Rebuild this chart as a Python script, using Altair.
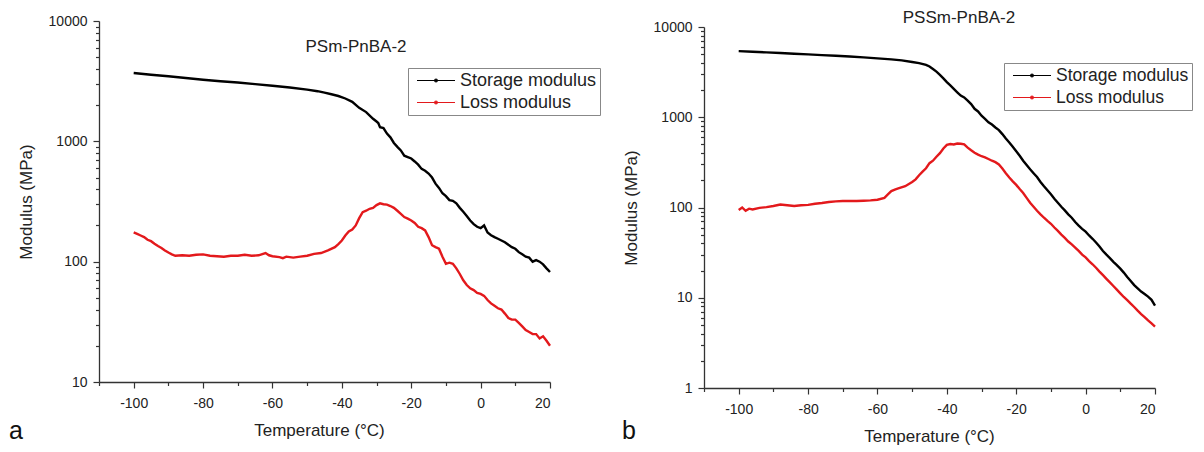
import altair as alt
import pandas as pd

FONT = "Liberation Sans"

# ---------------- panel a : PSm-PnBA-2 ----------------
a_storage_T = [-100, -95, -90, -85, -80, -75, -70, -65, -60, -55, -50, -47, -45, -43, -41, -39, -37,
               -35, -33, -31, -30, -29.5, -29, -28, -27, -26, -25, -24, -23, -22, -21, -20, -19, -18,
               -17, -16, -15, -14, -13, -12, -11, -10, -9, -8, -7, -6, -5, -4, -3, -2, -1, 0, 1, 2,
               3, 4, 5, 6, 7, 8, 9, 10, 11, 12, 13, 14, 15, 16, 17, 18, 19, 20]
a_storage_E = [3700, 3580, 3470, 3360, 3250, 3160, 3080, 2990, 2900, 2800, 2690, 2610, 2540, 2460, 2380,
               2270, 2130, 1900, 1750, 1540, 1460, 1420, 1310, 1290, 1160, 1080, 970, 900, 840, 760,
               740, 720, 680, 640, 590, 570, 540, 500, 445, 410, 370, 350, 325, 320, 305, 280, 260,
               240, 220, 205, 195, 190, 200, 175, 166, 160, 155, 150, 145, 138, 132, 128, 120, 115,
               110, 108, 100, 103, 100, 95, 88, 82]
a_loss_T = [-100, -99, -98, -97, -96, -95, -94, -93, -92, -91, -90, -89, -88, -86, -84, -82, -80, -78,
            -76, -74, -72, -70, -68, -66, -64, -62, -61, -60, -58, -57, -56, -54, -52, -50, -48, -46,
            -44, -42, -41, -40, -39, -38, -37, -36, -35, -34, -33, -32, -31, -30, -29, -28, -27, -26,
            -25, -24, -23, -22, -21, -20, -19, -18, -17, -16, -15, -14, -13, -12, -11, -10, -9, -8,
            -7, -6, -5, -4, -3, -2, -1, 0, 1, 2, 3, 4, 5, 6, 7, 8, 9, 10, 11, 12, 13, 14, 15, 16, 17,
            18, 19, 20]
a_loss_E = [175, 170, 165, 160, 152, 148, 141, 135, 130, 124, 119, 115, 112, 113, 112, 114, 115, 112,
            111, 110, 112, 112, 114, 112, 113, 118, 113, 111, 109, 107, 110, 108, 110, 112, 116, 118,
            124, 132, 140, 150, 165, 178, 185, 200, 230, 258, 265, 275, 280, 295, 305, 300, 298, 290,
            280, 265, 250, 235, 228, 220, 210, 195, 190, 182, 160, 137, 132, 128, 110, 96, 98, 96,
            88, 79, 70, 64, 60, 58, 55, 54, 52, 48, 45, 43, 41, 40, 37, 34, 33, 33, 31, 29, 27, 26,
            25, 25, 23, 24, 22, 20]

# ---------------- panel b : PSSm-PnBA-2 ----------------
b_storage_T = [-100, -96, -92, -88, -84, -80, -76, -72, -68, -64, -60, -56, -53, -50, -48, -46, -45,
               -44, -43, -42, -41, -40, -39, -38, -37, -36, -35, -34, -33, -32, -31, -30, -29, -28,
               -27, -26, -25, -24, -23, -22, -21, -20, -19, -18, -17, -16, -15, -14, -13, -12, -11,
               -10, -9, -8, -7, -6, -5, -4, -3, -2, -1, 0, 1, 2, 3, 4, 5, 6, 7, 8, 9, 10, 11, 12, 13,
               14, 15, 16, 17, 18, 19, 20]
b_storage_E = [5400, 5320, 5230, 5150, 5060, 4970, 4880, 4800, 4710, 4610, 4490, 4380, 4270, 4090,
               3980, 3800, 3650, 3420, 3200, 2950, 2700, 2450, 2250, 2060, 1890, 1740, 1660, 1530,
               1400, 1240, 1160, 1040, 960, 880, 830, 770, 720, 650, 580, 525, 470, 420, 375, 330,
               295, 265, 240, 218, 192, 172, 155, 140, 125, 113, 102, 93, 84, 77, 69, 63, 58, 54, 49,
               45, 41, 37, 33, 30, 27.5, 25, 23, 21, 19, 17, 15.3, 13.8, 12.7, 11.7, 11, 10.3, 9.5,
               8.2]
b_loss_T = [-100, -99, -98, -97, -96, -94, -92, -90, -88, -86, -84, -82, -80, -78, -76, -74, -72, -70,
            -68, -66, -64, -62, -60, -58, -57, -56, -55, -54, -52, -50, -49, -48, -47, -46, -45, -44,
            -43, -42, -41, -40, -39, -38, -37, -36, -35, -34, -33, -32, -31, -30, -29, -28, -27, -26,
            -25, -24, -23, -22, -21, -20, -19, -18, -17, -16, -15, -14, -13, -12, -11, -10, -9, -8,
            -7, -6, -5, -4, -3, -2, -1, 0, 1, 2, 3, 4, 5, 6, 7, 8, 9, 10, 11, 12, 13, 14, 15, 16, 17,
            18, 19, 20]
b_loss_E = [94, 100, 92, 97, 95, 99, 101, 104, 108, 106, 104, 106, 107, 110, 112, 115, 117, 118, 118,
            118, 119, 120, 122, 128, 140, 152, 158, 163, 172, 192, 205, 228, 250, 272, 310, 330, 365,
            400, 450, 495, 505, 500, 512, 508, 500, 460, 430, 405, 385, 370, 360, 345, 330, 318, 300,
            270, 240, 215, 195, 178, 160, 145, 128, 113, 102, 92, 84, 77, 71, 66, 60, 55, 50, 46, 42,
            39, 36, 33, 30, 28, 25.5, 23.5, 21.5, 19.5, 17.8, 16.2, 14.8, 13.5, 12.3, 11.2, 10.2, 9.4,
            8.6, 7.9, 7.2, 6.6, 6.1, 5.6, 5.2, 4.8]

SERIES = ["Storage modulus", "Loss modulus"]
COLORS = ["#000000", "#e3191c"]
X_TICKS = list(range(-110, 21, 10))
A_Y_TICKS = [m * 10 ** e for e in range(1, 4) for m in range(1, 10)] + [10000]
B_Y_TICKS = [m * 10 ** e for e in range(0, 4) for m in range(1, 10)] + [10000]

MAJOR_Y = "abs(log(datum.value)/LN10 - round(log(datum.value)/LN10)) < 0.001"
MAJOR_X = "datum.value % 20 == 0"


def frame(ts, es, name):
    return pd.DataFrame({"T": ts, "E": es, "series": name})


def panel(df, ydom, yticks, height, yrange, title, title_pos, letter, letter_pos, legend_pos,
          legend_font, xtitle_x):
    lines = alt.Chart(df).mark_line(strokeWidth=2.4).encode(
        x=alt.X("T:Q",
                scale=alt.Scale(domain=[-110, 20], nice=False, zero=False),
                axis=alt.Axis(values=X_TICKS,
                              labelExpr=MAJOR_X + " ? '' + datum.value : ''",
                              tickSize={"condition": {"test": MAJOR_X, "value": 6}, "value": 3.5},
                              title="Temperature (°C)", titleX=xtitle_x,
                              labelPadding=8, titlePadding=12)),
        y=alt.Y("E:Q",
                scale=alt.Scale(type="log", domain=ydom, nice=False, range=yrange),
                axis=alt.Axis(values=yticks, format="d",
                              labelExpr=MAJOR_Y + " ? datum.label : ''",
                              tickSize={"condition": {"test": MAJOR_Y, "value": 6}, "value": 3.5},
                              title="Modulus (MPa)", labelPadding=6, titlePadding=13)),
        color=alt.Color("series:N",
                        scale=alt.Scale(domain=SERIES, range=COLORS),
                        legend=alt.Legend(title=None, orient="none",
                                          legendX=legend_pos[0], legendY=legend_pos[1],
                                          symbolType="M-1,0H1M-0.07,0A0.07,0.07,0,1,0,0.07,0A0.07,0.07,0,1,0,-0.07,0",
                                          symbolSize=1444, symbolStrokeWidth=1.2, symbolOffset=5,
                                          clipHeight=19, rowPadding=3, padding=3,
                                          labelOffset=4, labelFontSize=legend_font, labelFont=FONT,
                                          labelColor="#222", strokeColor="#888",
                                          fillColor="white")),
    )
    ttl = alt.Chart(pd.DataFrame({"t": [title]})).mark_text(
        font=FONT, fontSize=17, color="#222", baseline="middle", align="center"
    ).encode(text="t:N", x=alt.value(title_pos[0]), y=alt.value(title_pos[1]))
    let = alt.Chart(pd.DataFrame({"t": [letter]})).mark_text(
        font=FONT, fontSize=25, color="#111", baseline="middle", align="left"
    ).encode(text="t:N", x=alt.value(letter_pos[0]), y=alt.value(letter_pos[1]))
    return alt.layer(lines, ttl, let).properties(width=451, height=height)


df_a = pd.concat([frame(a_storage_T, a_storage_E, SERIES[0]), frame(a_loss_T, a_loss_E, SERIES[1])])
df_b = pd.concat([frame(b_storage_T, b_storage_E, SERIES[0]), frame(b_loss_T, b_loss_E, SERIES[1])])

left = panel(df_a, [10, 10000], A_Y_TICKS, 361, [361, 0], "PSm-PnBA-2", (257, 26), "a",
             (-90, 410), (309, 47), 18, 220)
right = panel(df_b, [1, 10000], B_Y_TICKS, 367, [367, 6], "PSSm-PnBA-2", (255, -3), "b",
              (-82, 410), (300, 42), 17.5, 225)

chart = alt.hconcat(left, right, spacing=154, bounds="flush").resolve_scale(
    x="independent", y="independent", color="independent"
).resolve_legend(color="independent").properties(
    padding={"left": 0, "top": 0, "right": 0, "bottom": 0}
).configure_view(stroke="transparent").configure_axis(
    grid=False, domainColor="#333", domainWidth=1.3, tickColor="#333", tickWidth=1.2,
    labelFont=FONT, labelFontSize=14, labelColor="#222", titleFont=FONT, titleFontSize=17,
    titleFontWeight="normal", titleColor="#222"
)

chart.save("out.html", embed_options={"renderer": "svg", "actions": False})
